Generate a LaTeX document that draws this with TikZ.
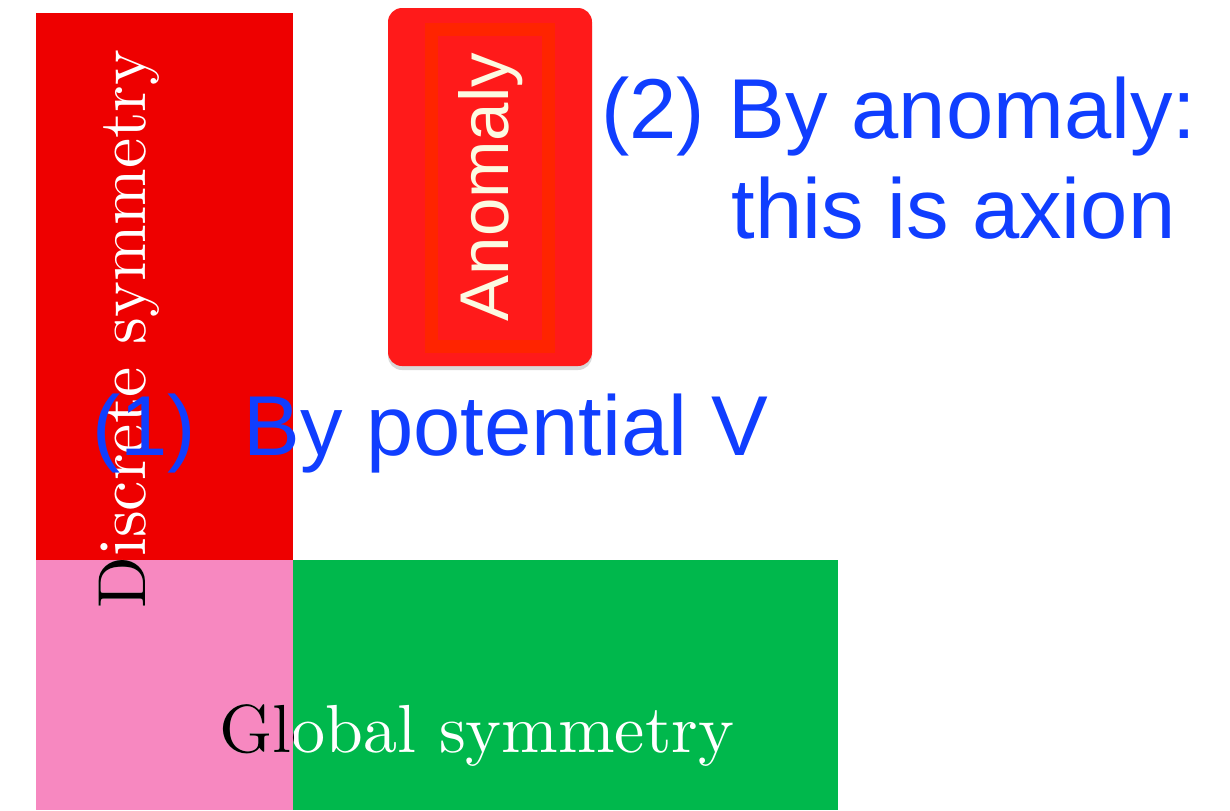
\documentclass[tikz,border=0pt]{standalone}
\usepackage{fontspec}
\setsansfont{Liberation Sans}
\usetikzlibrary{shadows}
\definecolor{discred}{RGB}{238,0,0}
\definecolor{globpink}{RGB}{247,136,192}
\definecolor{globgreen}{RGB}{0,184,76}
\definecolor{anomred}{RGB}{255,26,26}
\definecolor{anomframe}{RGB}{255,36,0}
\definecolor{anomtext}{RGB}{252,250,226}
\definecolor{noteblue}{RGB}{16,62,255}
\tikzset{
  symlabel/.style={inner sep=0pt, scale=3.4, font=\rmfamily\fontsize{10}{12}\selectfont},
  note/.style={inner sep=0pt, text=noteblue, font=\sffamily\fontsize{42.5}{50}\selectfont},
  anombox/.style={fill=anomred, rounded corners=7pt, minimum width=102pt, minimum height=179pt,
    drop shadow={shadow xshift=0pt, shadow yshift=-2pt, opacity=0.3}},
}
\newcommand{\pinkblock}{(36,560) rectangle (293,810)}

\begin{document}
\begin{tikzpicture}[x=0.5pt,y=-0.5pt]
  \useasboundingbox (0,0) rectangle (1230,810);
  % blocks
  \fill[discred] (36,13) rectangle (293,560);
  \fill[globpink] \pinkblock;
  \fill[globgreen] (293,560) rectangle (838,810);
  % white labels, black again where they run into the pink block
  \node[symlabel,rotate=90,anchor=base west,text=white] (disc) at (145,610) {Discrete symmetry};
  \node[symlabel,anchor=base west,text=white] (glob) at (218,752) {Global symmetry};
  \begin{scope}
    \clip \pinkblock;
    \node[symlabel,rotate=90,anchor=base west] (discpink) at (145,610) {Discrete symmetry};
    \node[symlabel,anchor=base west] (globpink) at (218,752) {Global symmetry};
  \end{scope}
  % anomaly
  \node[anombox] (anom) at (490,187) {};
  \draw[anomframe,line width=6.5pt] (431,29) rectangle (548,346);
  \node[rotate=90,anchor=base,inner sep=0pt,text=anomtext,
    font=\sffamily\fontsize{34.5}{40}\selectfont] (anomlabel) at (508,187) {Anomaly};
  % notes
  \node[note,anchor=base west] (potnote) at (92,455) {(1)\ \ By potential V};
  \node[note,anchor=base west] (anomnote) at (601,138) {(2) By anomaly:};
  \node[note,anchor=base west] (axionnote) at (731,238) {this is axion};
\end{tikzpicture}
\end{document}
